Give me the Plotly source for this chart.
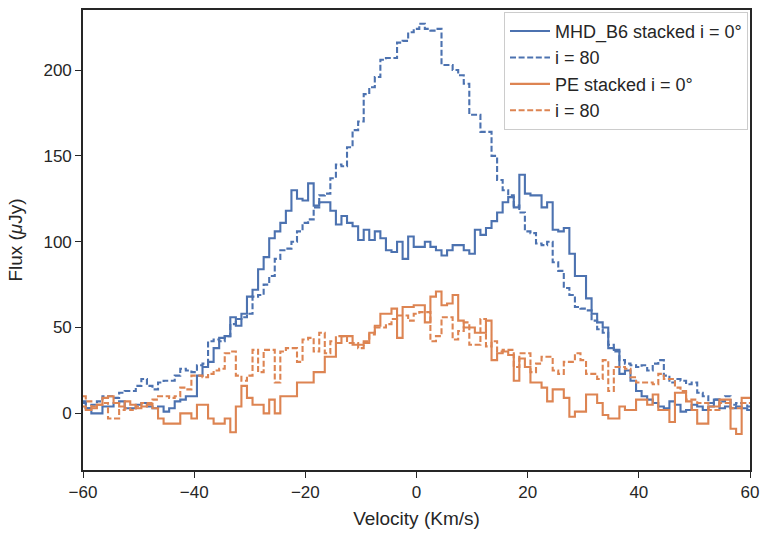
import plotly.graph_objects as go

# velocity bins (km/s), one per channel
velocity = list(range(-60, 61))

# MHD_B6 stacked, i = 0 deg  (rows of 10 channels starting at -60)
mhd_i0 = [6, 3, 0, 0, 4, 4, 6, 7, 3, 3,
          5, 6, 4, 3, 4, 1, 3, 7, 8, 10,
          10, 22, 27, 30, 38, 44, 45, 56, 51, 58,
          68, 72, 84, 91, 102, 106, 111, 118, 130, 125,
          124, 134, 121, 123, 123, 118, 110, 115, 111, 109,
          101, 107, 101, 106, 102, 95, 94, 100, 90, 103,
          97, 97, 100, 97, 95, 92, 95, 98, 98, 95,
          93, 107, 104, 108, 112, 117, 123, 126, 120, 139,
          128, 127, 127, 120, 123, 107, 106, 108, 93, 80,
          80, 67, 58, 53, 50, 38, 37, 23, 25, 19,
          13, 10, 8, 6, 4, 3, 7, 5, 1, 2,
          5, 4, 2, 4, 8, 3, 4, 3, 4, 3, 2]

# MHD_B6, i = 80
mhd_i80 = [7, 3, 5, 7, 10, 10, 9, 12, 13, 13,
           16, 20, 16, 14, 18, 19, 19, 22, 26, 25,
           24, 28, 29, 42, 43, 42, 45, 52, 55, 56,
           58, 68, 69, 75, 80, 90, 95, 96, 100, 106,
           111, 113, 120, 127, 128, 137, 145, 144, 155, 165,
           170, 186, 190, 196, 206, 207, 207, 216, 217, 222,
           224, 227, 224, 223, 224, 203, 203, 200, 197, 192,
           174, 174, 164, 164, 150, 136, 130, 127, 121, 117,
           106, 105, 99, 98, 100, 88, 83, 73, 69, 62,
           61, 60, 54, 49, 47, 40, 36, 31, 29, 28,
           27, 28, 25, 29, 31, 22, 18, 20, 19, 17,
           18, 12, 10, 6, 8, 7, 10, 5, 6, 6, 4]

# PE stacked, i = 0 deg
pe_i0 = [4, 2, 3, 5, 9, 10, 6, 4, 7, 5,
         3, 4, 5, 3, -3, -6, -6, -6, 0, 0,
         -3, 5, 5, -3, -6, -6, -3, -11, 4, 16,
         9, 5, 5, 0, 8, 0, 10, 10, 10, 18,
         18, 18, 24, 24, 33, 33, 41, 45, 45, 40,
         40, 41, 47, 51, 58, 58, 61, 44, 62, 62,
         63, 63, 53, 68, 71, 63, 64, 69, 54, 50,
         50, 47, 47, 54, 31, 35, 36, 34, 19, 32,
         27, 18, 18, 15, 7, 14, 14, 9, -2, 1,
         1, 11, 11, 6, -1, -3, -3, 4, 2, 2,
         8, 8, 5, 11, 2, 2, -5, 12, 12, 7,
         2, -6, -6, 4, 4, 8, 8, -9, -12, 9, 9]

# PE, i = 80
pe_i80 = [10, 7, 4, 5, 6, -3, -3, 2, 3, 2,
          4, 6, 6, 8, 10, 10, 9, 10, 15, 14,
          22, 22, 21, 23, 25, 26, 35, 36, 22, 19,
          22, 37, 24, 37, 37, 18, 36, 38, 38, 30,
          43, 44, 36, 47, 35, 42, 45, 45, 41, 41,
          38, 42, 46, 50, 50, 52, 55, 57, 57, 54,
          58, 59, 59, 42, 45, 56, 56, 43, 48, 53,
          40, 40, 55, 39, 42, 36, 37, 37, 27, 35,
          35, 24, 29, 33, 33, 25, 23, 30, 30, 35,
          31, 23, 23, 20, 31, 13, 27, 27, 26, 21,
          18, 18, 18, 17, 23, 20, 20, 15, 13, 8,
          8, 6, 6, 2, 2, 6, 6, 3, 3, 6, 6]

blue = "#4c72b0"
orange = "#dd8452"
dash = "6px,2.6px"
ink = "#262626"

fig = go.Figure()
series = [
    ("MHD_B6 stacked i = 0°", mhd_i0, blue, "solid"),
    ("i = 80", mhd_i80, blue, dash),
    ("PE stacked i = 0°", pe_i0, orange, "solid"),
    ("i = 80", pe_i80, orange, dash),
]
for name, vals, col, d in series:
    fig.add_trace(go.Scatter(
        x=velocity, y=vals, mode="lines", name=name,
        line=dict(color=col, width=2.1, dash=d, shape="hvh"),
    ))

axis_common = dict(
    showline=True, linecolor=ink, linewidth=1.6, mirror=True,
    ticks="outside", ticklen=6, tickwidth=1.4, tickcolor=ink,
    showgrid=False, zeroline=False, automargin=False,
    tickfont=dict(size=17, color=ink),
)

fig.update_layout(
    width=761, height=536,
    margin=dict(l=83, r=11, t=10, b=66),
    paper_bgcolor="white", plot_bgcolor="white",
    font=dict(family="Liberation Sans, Arial, sans-serif", color=ink),
    xaxis=dict(range=[-60, 60], tickvals=[-60, -40, -20, 0, 20, 40, 60],
               ticktext=["\u221260", "\u221240", "\u221220", "0", "20", "40", "60"],
               ticklabeloverflow="allow",
               title=dict(text="Velocity (Km/s)", font=dict(size=19), standoff=10),
               **axis_common),
    yaxis=dict(range=[-33, 235], tickvals=[0, 50, 100, 150, 200],
               title=dict(text="Flux (<i>μ</i>Jy)", font=dict(size=19), standoff=16),
               **axis_common),
    legend=dict(x=0.997, y=0.996, xanchor="right", yanchor="top",
                bgcolor="rgba(255,255,255,0.85)", bordercolor="#cccccc", borderwidth=1,
                font=dict(size=18, color=ink), tracegroupgap=0,
                itemwidth=40),
    showlegend=True,
)

# remove the page's default 8px body margin and any scrollbars
page_fix = ("document.body.style.margin='0';"
            "document.body.style.overflow='hidden';"
            "document.documentElement.style.overflow='hidden';")

fig.write_html("out.html", post_script=page_fix,
               config={"displayModeBar": False})
